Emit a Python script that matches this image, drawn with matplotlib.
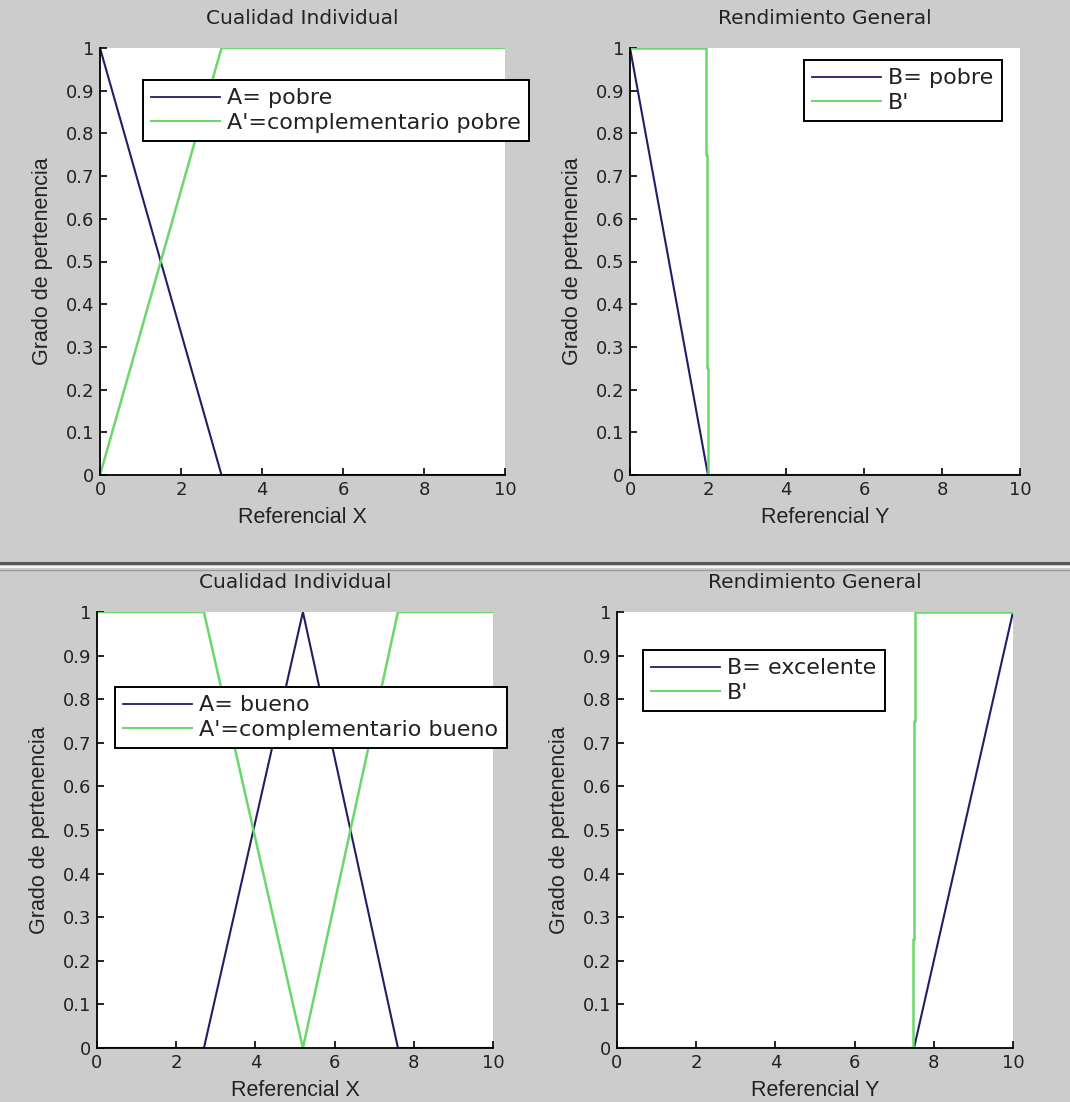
import numpy as np
import matplotlib.pyplot as plt
from matplotlib.lines import Line2D

# datos
x_pobre = [0, 3, 10]
a_pobre = [1, 0, 0]
a_comp_pobre = [0, 1, 1]

x_b_pobre = [0, 2, 10]
b_pobre = [1, 0, 0]
x_b_prima1 = [0, 1.96, 1.96, 1.98, 1.98, 2.0, 2.0, 10]
b_prima1 = [1, 1, 0.75, 0.75, 0.25, 0.25, 0, 0]

x_bueno = [0, 2.7, 5.2, 7.6, 10]
a_bueno = [0, 0, 1, 0, 0]
a_comp_bueno = [1, 1, 0, 1, 1]

x_b_exc = [0, 7.5, 10]
b_exc = [0, 0, 1]
x_b_prima2 = [0, 7.47, 7.47, 7.5, 7.5, 7.53, 7.53, 10]
b_prima2 = [0, 0, 0.25, 0.25, 0.75, 0.75, 1, 1]

xticks = [0, 2, 4, 6, 8, 10]
yticks = [0, 0.1, 0.2, 0.3, 0.4, 0.5, 0.6, 0.7, 0.8, 0.9, 1]
ytick_labels = ["0", "0.1", "0.2", "0.3", "0.4", "0.5", "0.6", "0.7", "0.8", "0.9", "1"]

azul = "#1f1f66"
verde = "#6ad86a"
fondo = "#cccccc"

plt.rcParams['font.family'] = ['DejaVu Sans']
narrow = ['Liberation Sans', 'DejaVu Sans']

W, H = 1070, 1102
fig = plt.figure(figsize=(W / 100, H / 100), dpi=100, facecolor=fondo)


def px(left, right, top, bottom):
    return [left / W, 1 - bottom / H, (right - left) / W, (bottom - top) / H]


def setup(ax, title, xlabel):
    ax.set_xlim(0, 10)
    ax.set_ylim(0, 1)
    ax.set_xticks(xticks)
    ax.set_xticklabels([str(t) for t in xticks])
    ax.set_yticks(yticks)
    ax.set_yticklabels(ytick_labels)
    for s in ['top', 'right']:
        ax.spines[s].set_visible(False)
    for s in ['left', 'bottom']:
        ax.spines[s].set_linewidth(1.3)
    ax.tick_params(direction='in', length=5, width=1.2, labelsize=13, pad=4, labelcolor="#222222")
    ax.set_title(title, fontsize=14.5, pad=17, color="#222222")
    ax.set_xlabel(xlabel, fontsize=15.5, family=narrow, labelpad=6, color="#222222")
    ax.set_ylabel("Grado de pertenencia", fontsize=15.5, family=narrow, labelpad=9, color="#222222")


def leyenda(ax, labels, x, y):
    handles = [Line2D([], [], color=azul, lw=1.3), Line2D([], [], color=verde, lw=1.5)]
    leg = ax.legend(handles, labels, loc='upper left', bbox_to_anchor=(x / W, 1 - y / H),
                    bbox_transform=fig.transFigure, borderaxespad=0, fontsize=16,
                    fancybox=False, framealpha=1, edgecolor='black', handlelength=3.1,
                    handletextpad=0.3, borderpad=0.38, labelspacing=0.2)
    leg.get_frame().set_linewidth(1.4)
    for t in leg.get_texts():
        t.set_color("#222222")


ax1 = fig.add_axes(px(100, 505, 48, 475))
ax1.plot(x_pobre, a_pobre, color=azul, lw=1.5)
ax1.plot(x_pobre, a_comp_pobre, color=verde, lw=1.8)
setup(ax1, "Cualidad Individual", "Referencial X")
leyenda(ax1, ["A= pobre", "A'=complementario pobre"], 143, 80)

ax2 = fig.add_axes(px(630, 1020, 48, 475))
ax2.plot(x_b_pobre, b_pobre, color=azul, lw=1.5)
ax2.plot(x_b_prima1, b_prima1, color=verde, lw=1.8)
setup(ax2, "Rendimiento General", "Referencial Y")
leyenda(ax2, ["B= pobre", "B'"], 804, 60)

ax3 = fig.add_axes(px(97, 493, 612, 1048))
ax3.plot(x_bueno, a_bueno, color=azul, lw=1.5)
ax3.plot(x_bueno, a_comp_bueno, color=verde, lw=1.8)
setup(ax3, "Cualidad Individual", "Referencial X")
leyenda(ax3, ["A= bueno", "A'=complementario bueno"], 115, 687)

ax4 = fig.add_axes(px(617, 1013, 612, 1048))
ax4.plot(x_b_exc, b_exc, color=azul, lw=1.5)
ax4.plot(x_b_prima2, b_prima2, color=verde, lw=1.8)
setup(ax4, "Rendimiento General", "Referencial Y")
leyenda(ax4, ["B= excelente", "B'"], 643, 650)

# separacion entre las dos capturas
fig.add_artist(Line2D([0, 1], [1 - 563 / H] * 2, color="#555555", lw=2.2))
fig.add_artist(Line2D([0, 1], [1 - 566.5 / H] * 2, color="#f4f4f4", lw=1.5))
fig.add_artist(Line2D([0, 1], [1 - 569.5 / H] * 2, color="#9a9a9a", lw=1.0))

fig.savefig("out.png", dpi=100, facecolor=fondo)
